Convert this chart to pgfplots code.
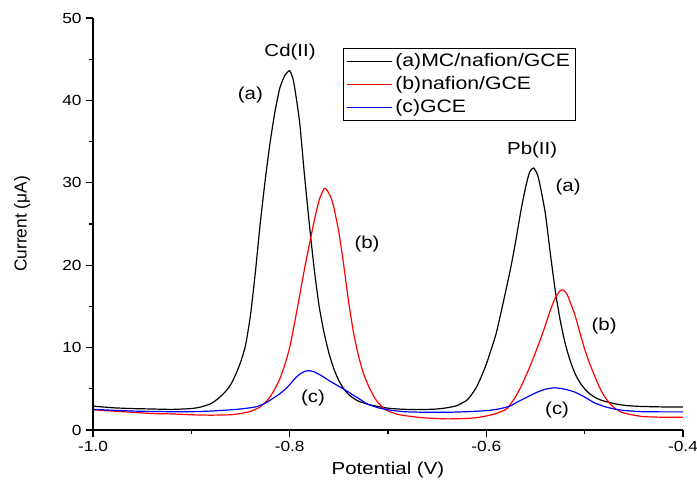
\documentclass[border=0pt]{standalone}
\usepackage{pgfplots}
\pgfplotsset{compat=1.18}
\usepackage{fontspec}
\setmainfont{Liberation Sans}[FakeStretch=1.18]
\newfontfamily\ylabfont{Liberation Sans}
\begin{document}
\begin{tikzpicture}
\useasboundingbox (-69.75pt,-45pt) rectangle (453pt,322.5pt);
\begin{axis}[
  at={(0,0)}, anchor=south west,
  width=442.5pt, height=309pt, scale only axis,
  xmin=-1, xmax=-0.4, ymin=0, ymax=50,
  axis x line*=bottom, axis y line*=left,
  axis line style={-, line width=0.8pt},
  tick align=outside, major tick length=5pt, minor tick length=3pt,
  every tick/.style={black, line width=0.8pt},
  minor x tick num=1, minor y tick num=1,
  xtick={-1,-0.8,-0.6,-0.4}, xticklabels={-1.0,-0.8,-0.6,-0.4},
  ytick={0,10,20,30,40,50},
  /pgf/number format/assume math mode=true,
  tick label style={font=\fontsize{11}{13}\selectfont},
  xlabel={Potential (V)},
  ylabel={\ylabfont Current (μA)},
  label style={font=\fontsize{13}{15}\selectfont},
  xlabel style={at={(axis description cs:0.5,-0.097)}, anchor=center},
  ylabel style={at={(axis description cs:-0.12,0.5)}, anchor=center},
  legend cell align=left,
  legend image code/.code={\draw[#1, line width=0.9pt] (0cm,0cm) -- (1.2cm,0cm);},
  legend style={at={(axis description cs:0.4237,0.927)}, anchor=north west,
    draw=black, font=\fontsize{13.5}{15}\selectfont, inner sep=2pt, row sep=2pt},
  every axis plot/.append style={line width=0.9pt, smooth, tension=0.35},
]
\addplot[black] coordinates {
(-1.0,2.9) (-0.98,2.7) (-0.96,2.6) (-0.94,2.55) (-0.92,2.5) (-0.90,2.6) (-0.89,2.8)
(-0.88,3.2) (-0.875,3.6) (-0.87,4.1) (-0.865,4.7) (-0.86,5.5) (-0.855,6.7) (-0.85,8.2)
(-0.845,10.2) (-0.84,13.8) (-0.835,19.0) (-0.83,25.0) (-0.825,30.2) (-0.82,34.8)
(-0.815,38.6) (-0.81,41.5) (-0.805,43.0) (-0.80,43.6) (-0.796,42.3) (-0.79,37.5)
(-0.785,31.0) (-0.78,25.0) (-0.775,19.5) (-0.77,15.0) (-0.765,11.8) (-0.76,9.3)
(-0.755,7.4) (-0.75,6.0) (-0.745,5.0) (-0.74,4.3) (-0.735,3.85) (-0.73,3.5) (-0.72,3.1)
(-0.71,2.85) (-0.70,2.65) (-0.69,2.55) (-0.68,2.5) (-0.66,2.5) (-0.65,2.55) (-0.64,2.7)
(-0.63,2.95) (-0.62,3.6) (-0.615,4.3) (-0.61,5.2) (-0.605,6.5) (-0.60,8.0) (-0.595,9.8)
(-0.59,11.7) (-0.585,14.3) (-0.58,17.0) (-0.575,19.8) (-0.57,23.0) (-0.565,26.5)
(-0.56,29.5) (-0.556,31.3) (-0.552,31.8) (-0.548,31.0) (-0.545,29.5) (-0.54,26.3)
(-0.535,21.5) (-0.53,17.0) (-0.525,13.4) (-0.52,10.6) (-0.515,8.5) (-0.51,6.9)
(-0.505,5.8) (-0.50,5.0) (-0.495,4.4) (-0.49,4.0) (-0.485,3.7) (-0.48,3.5) (-0.47,3.2)
(-0.46,3.0) (-0.45,2.9) (-0.44,2.85) (-0.42,2.8) (-0.40,2.8)
};
\addlegendentry{(a)MC/nafion/GCE}
\addplot[red] coordinates {
(-1.0,2.45) (-0.98,2.3) (-0.96,2.15) (-0.94,2.0) (-0.92,1.95) (-0.90,1.85) (-0.88,1.8)
(-0.86,1.85) (-0.85,2.0) (-0.84,2.25) (-0.835,2.5) (-0.83,2.8) (-0.825,3.3) (-0.82,4.0)
(-0.815,5.0) (-0.81,6.2) (-0.805,7.9) (-0.80,10.0) (-0.795,13.0) (-0.79,16.2)
(-0.785,19.5) (-0.78,22.5) (-0.775,25.4) (-0.77,27.9) (-0.765,29.3) (-0.762,29.1)
(-0.758,28.2) (-0.755,27.0) (-0.75,24.0) (-0.745,20.0) (-0.74,15.5) (-0.735,11.8)
(-0.73,9.0) (-0.725,6.9) (-0.72,5.4) (-0.715,4.2) (-0.71,3.3) (-0.705,2.7) (-0.70,2.3)
(-0.69,1.9) (-0.68,1.7) (-0.67,1.55) (-0.66,1.45) (-0.64,1.35) (-0.62,1.4) (-0.61,1.5)
(-0.60,1.7) (-0.59,2.0) (-0.58,2.5) (-0.575,3.2) (-0.57,4.1) (-0.565,5.2) (-0.56,6.5)
(-0.555,7.9) (-0.55,9.4) (-0.545,11.0) (-0.54,12.7) (-0.535,14.5) (-0.53,16.0)
(-0.525,16.9) (-0.522,17.0) (-0.518,16.5) (-0.515,15.6) (-0.51,14.0) (-0.505,11.9)
(-0.50,9.8) (-0.495,8.1) (-0.49,6.6) (-0.485,5.2) (-0.48,4.1) (-0.475,3.3) (-0.47,2.7)
(-0.465,2.3) (-0.46,2.05) (-0.45,1.8) (-0.44,1.62) (-0.42,1.55) (-0.40,1.55)
};
\addlegendentry{(b)nafion/GCE}
\addplot[blue] coordinates {
(-1.0,2.5) (-0.98,2.4) (-0.96,2.3) (-0.94,2.25) (-0.92,2.22) (-0.90,2.22) (-0.88,2.3)
(-0.86,2.45) (-0.85,2.55) (-0.84,2.7) (-0.833,2.85) (-0.825,3.25) (-0.82,3.6) (-0.815,4.0)
(-0.81,4.4) (-0.805,4.9) (-0.80,5.5) (-0.795,6.2) (-0.79,6.75) (-0.785,7.1) (-0.78,7.2)
(-0.775,7.05) (-0.77,6.75) (-0.765,6.4) (-0.76,6.0) (-0.755,5.65) (-0.75,5.3)
(-0.745,4.95) (-0.74,4.6) (-0.735,4.2) (-0.73,3.85) (-0.725,3.45) (-0.72,3.1) (-0.71,2.7)
(-0.70,2.45) (-0.69,2.3) (-0.68,2.2) (-0.66,2.15) (-0.64,2.15) (-0.62,2.22) (-0.60,2.35)
(-0.59,2.5) (-0.58,2.75) (-0.575,2.95) (-0.57,3.3) (-0.56,3.9) (-0.55,4.5) (-0.54,4.95)
(-0.53,5.12) (-0.52,4.95) (-0.51,4.6) (-0.50,4.0) (-0.49,3.3) (-0.48,2.85) (-0.47,2.55)
(-0.46,2.38) (-0.45,2.28) (-0.44,2.22) (-0.42,2.2) (-0.40,2.2)
};
\addlegendentry{(c)GCE}
\node[font=\fontsize{13}{15}\selectfont] at (axis cs:-0.7996,45.9) {Cd(II)};
\node[font=\fontsize{13}{15}\selectfont] at (axis cs:-0.840,40.65) {(a)};
\node[font=\fontsize{13}{15}\selectfont] at (axis cs:-0.7213,22.6) {(b)};
\node[font=\fontsize{13}{15}\selectfont] at (axis cs:-0.7762,3.9) {(c)};
\node[font=\fontsize{13}{15}\selectfont] at (axis cs:-0.5534,34.0) {Pb(II)};
\node[font=\fontsize{13}{15}\selectfont] at (axis cs:-0.5168,29.5) {(a)};
\node[font=\fontsize{13}{15}\selectfont] at (axis cs:-0.4802,12.6) {(b)};
\node[font=\fontsize{13}{15}\selectfont] at (axis cs:-0.528,2.43) {(c)};
\end{axis}
\end{tikzpicture}
\end{document}
